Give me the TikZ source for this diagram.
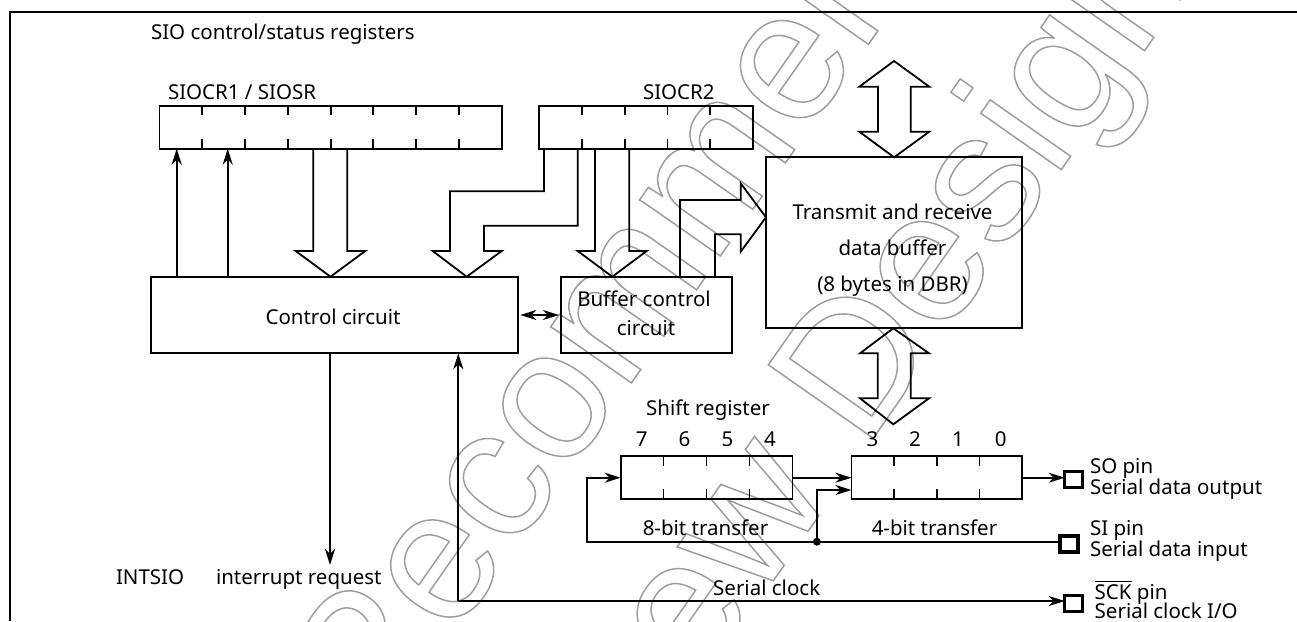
\documentclass[tikz,border=0pt]{standalone}
\usepackage{amsmath}
\usepackage{fontspec}
\setmainfont{Noto Sans}
\newfontfamily\wmfont{Liberation Sans}
\newcommand{\wmtext}[1]{\special{pdf:code q 1 Tr 1.5 w 0.62 0.62 0.62 RG}\fontsize{186}{186}\wmfont #1\special{pdf:code Q}}
\usepackage{xcolor}
\usepackage{tikz}
\usetikzlibrary{arrows.meta,calc,positioning}

\tikzset{
  lab/.style={anchor=base,inner sep=0pt,outer sep=0pt,font=\fontsize{20.5}{24}\selectfont},
  labl/.style={lab,anchor=base west},
  box/.style={draw,rectangle,inner sep=0pt,outer sep=0pt},
  pinbox/.style={draw,rectangle,inner sep=0pt,outer sep=0pt,line width=3.2pt,minimum width=18pt,minimum height=16pt},
  sig/.style={-{Stealth[length=16pt,width=10pt,inset=5pt]}},
  sigboth/.style={{Stealth[length=16pt,width=10pt,inset=5pt]}-{Stealth[length=16pt,width=10pt,inset=5pt]}},
  bus/.style={line join=miter},
  wmark/.style={anchor=base,inner sep=0pt,rotate=55}
}

\begin{document}
\begin{tikzpicture}[x=1pt,y=-1pt,line width=1.8pt]
  \useasboundingbox (0,0) rectangle (1297,621);
  \begin{scope}
    \clip (0,0) rectangle (1297,621);
    \node[wmark] (wmA) at (639,372) {\wmtext{Not Recommended}};
    \node[wmark] (wmB) at (832,497) {\wmtext{for New Design}};
  \end{scope}

  \coordinate (frameA) at (1297,12);
  \coordinate (frameB) at (10,12);
  \coordinate (frameC) at (10,621);
  \draw (frameA) -- (frameB) -- (frameC);

  \node[labl] (title) at (151,39) {SIO control/status registers};
  \node[labl] (siocrAlab) at (168,99.5) {SIOCR1 / SIOSR};
  \node[labl] (siocrBlab) at (643,99.5) {SIOCR2};

  \node[box,minimum width=342.2pt,minimum height=42.7pt] (siocrA) at (330.6,127.3) {};
  \node[box,minimum width=213.7pt,minimum height=42.7pt] (siocrB) at (646.2,127.3) {};
  \foreach \i in {1,...,7} {
    \draw ($(siocrA.north west)!\i/8!(siocrA.north east)$) -- ++(0,9.5);
    \draw ($(siocrA.south west)!\i/8!(siocrA.south east)$) -- ++(0,-9.5);
  }
  \foreach \i in {1,...,4} {
    \draw ($(siocrB.north west)!\i/5!(siocrB.north east)$) -- ++(0,9.5);
    \draw ($(siocrB.south west)!\i/5!(siocrB.south east)$) -- ++(0,-9.5);
  }

  \node[box,minimum width=367.6pt,minimum height=76.6pt] (ctrl) at (334.5,315) {};
  \node[lab] (ctrltxt) at (333,324) {Control circuit};
  \node[box,minimum width=170.7pt,minimum height=76.6pt] (bufctl) at (646.3,315) {};
  \node[lab] (bufctltxtA) at (644,306.7) {Buffer control};
  \node[lab] (bufctltxtB) at (646,335) {circuit};
  \node[box,minimum width=256.3pt,minimum height=171pt] (dbr) at (894.1,242.8) {};
  \node[lab] (dbrtxtA) at (892.5,219) {Transmit and receive};
  \node[lab] (dbrtxtB) at (892.5,255) {data buffer};
  \node[lab] (dbrtxtC) at (892.5,291.7) {(8 bytes in DBR)};

  \draw[sig] (176.7,0 |- ctrl.north) -- (176.7,0 |- siocrA.south);
  \draw[sig] (227.7,0 |- ctrl.north) -- (227.7,0 |- siocrA.south);
  \draw[bus] (313.3,0 |- siocrA.south) -- (313.3,251) -- (295.7,251) -- (330.5,0 |- ctrl.north) -- (365.3,251) -- (347.3,251) -- (347.3,0 |- siocrA.south);
  \draw[bus] (544,0 |- siocrB.south) -- (544,191.3) -- (450,191.3) -- (450,251) -- (432.7,251) -- (466.7,0 |- ctrl.north) -- (501.7,251) -- (484,251) -- (484,225.7) -- (577.7,225.7) -- (577.7,0 |- siocrB.south);
  \draw[bus] (595,0 |- siocrB.south) -- (595,251) -- (577.7,251) -- (612.3,0 |- bufctl.north) -- (646.7,251) -- (629.3,251) -- (629.3,0 |- siocrB.south);
  \draw[bus] (680,0 |- bufctl.north) -- (680,200) -- (740.7,200) -- (740.7,183.3) -- (dbr.west |- 0,217.3) -- (740.7,251.7) -- (740.7,234.3) -- (715,234.3) -- (715,0 |- bufctl.north);
  \draw[bus] (dbr.north) -- (929.3,131.7) -- (910.7,131.7) -- (910.7,86.7) -- (929.3,86.7) -- (894,61) -- (859.3,86.7) -- (878,86.7) -- (878,131.7) -- (859.3,131.7) -- cycle;
  \draw[sigboth] ([xshift=2pt]ctrl.east) -- ([xshift=-2pt]bufctl.west);

  \node[lab] (shifttitle) at (708,415) {Shift register};
  \node[box,minimum width=171.8pt,minimum height=42.7pt] (shiftH) at (706.5,477.4) {};
  \node[box,minimum width=170.6pt,minimum height=42.7pt] (shiftL) at (936.8,477.4) {};
  \foreach \i in {1,2,3} {
    \draw ($(shiftH.north west)!\i/4!(shiftH.north east)$) -- ++(0,9.5);
    \draw ($(shiftH.south west)!\i/4!(shiftH.south east)$) -- ++(0,-9.5);
    \draw ($(shiftL.north west)!\i/4!(shiftL.north east)$) -- ++(0,9.5);
    \draw ($(shiftL.south west)!\i/4!(shiftL.south east)$) -- ++(0,-9.5);
  }
  \foreach \d/\x in {7/641.8,6/684.6,5/727.5,4/770} \node[lab] (bit\d) at (\x,446.7) {\d};
  \foreach \d/\x in {3/872.5,2/915,1/958,0/1000.7} \node[lab] (bit\d) at (\x,446.7) {\d};

  \node[lab] (bdrEight) at (705.5,535) {8-bit transfer};
  \node[lab] (bdrFour) at (934.5,535) {4-bit transfer};
  \node[lab] (clocklab) at (766.7,595) {Serial clock};

  \draw[bus] (dbr.south -| 893.3,0) -- (860,353.3) -- (877.8,353.3) -- (877.8,398.3) -- (860,398.3) -- (893.3,424.3) -- (929,398.3) -- (910.7,398.3) -- (910.7,353.3) -- (929,353.3) -- cycle;

  \node[pinbox] (sopin) at (1073.7,479.7) {};
  \node[pinbox] (sipin) at (1069,544) {};
  \node[pinbox] (sckpin) at (1073.7,603.7) {};
  \node[labl] (sotxtA) at (1090,473) {SO pin};
  \node[labl] (sotxtB) at (1090,494) {Serial data output};
  \node[labl] (sitxtA) at (1090,535) {SI pin};
  \node[labl] (sitxtB) at (1090,556) {Serial data input};
  \node[labl] (scktxtA) at (1094.7,599) {$\overline{\mbox{SCK}}$ pin};
  \node[labl] (scktxtB) at (1094.7,618) {Serial clock I/O};

  \coordinate (join) at (816.9,541.7);
  \fill (join) circle (4pt);
  \coordinate (loopA) at (586.9,541.7);
  \coordinate (loopB) at (586.9,477.7);
  \draw[sig] (sipin.west |- join) -- (loopA) -- (loopB) -- (shiftH.west |- loopB);
  \draw[sig] (shiftH.east |- loopB) -- (shiftL.west |- loopB);
  \draw[sig] (join) -- (816.9,490) -- (shiftL.west |- 0,490);
  \draw[sig] (shiftL.east |- loopB) -- (sopin.west |- loopB);
  \draw[sig] (330,0 |- ctrl.south) -- (330,565);
  \coordinate (clockA) at (458.3,601);
  \draw[sig] (clockA) -- (458.3,0 |- ctrl.south);
  \draw[sig] (clockA) -- (sckpin.west |- clockA);

  \node[labl] (intlabA) at (116,584) {INTSIO};
  \node[labl] (intlabB) at (216,584) {interrupt request};
\end{tikzpicture}
\end{document}
